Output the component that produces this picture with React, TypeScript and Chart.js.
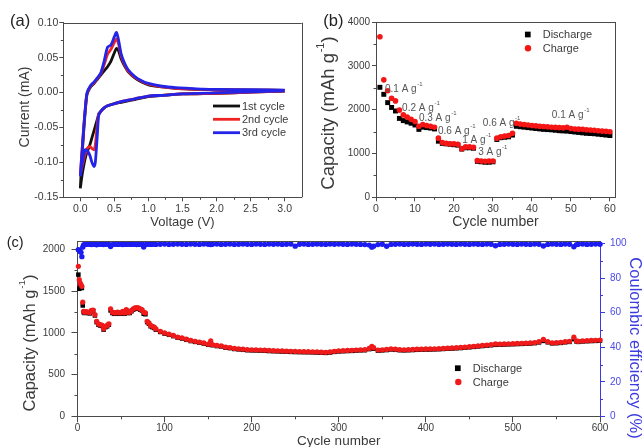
import React, { useEffect, useRef } from 'react';
import { Chart, registerables } from 'chart.js';

Chart.register(...registerables);

const FONT = "'Liberation Sans', Arial, Helvetica, sans-serif";
const TXT = '#3a3a3a';
const AX = '#4a4a4a';
const BLUE_AX = '#3a3ae6';

// ---------------- (a) cyclic voltammetry ----------------
const cvCathodicV = [3.0, 2.5, 2.0, 1.5, 1.2, 1.0, 0.8, 0.7, 0.6, 0.5, 0.4, 0.35, 0.3, 0.27, 0.25, 0.22, 0.2, 0.17, 0.14, 0.1, 0.07, 0.04, 0.02, 0.0];
const cvAnodicV = [0.0, 0.02, 0.05, 0.08, 0.1, 0.15, 0.2, 0.25, 0.3, 0.35, 0.4, 0.45, 0.5, 0.53, 0.56, 0.6, 0.65, 0.7, 0.8, 0.9, 1.0, 1.2, 1.4, 1.6, 1.8, 2.0, 2.5, 3.0];

const cv1Cathodic = [0.002, 0.0005, -0.001, -0.002, -0.004, -0.006, -0.01, -0.012, -0.014, -0.016, -0.019, -0.022, -0.027, -0.032, -0.038, -0.048, -0.055, -0.065, -0.075, -0.085, -0.095, -0.11, -0.122, -0.137];
const cv1Anodic = [-0.137, -0.1, -0.055, -0.018, -0.002, 0.008, 0.013, 0.019, 0.025, 0.031, 0.037, 0.045, 0.057, 0.063, 0.06, 0.048, 0.038, 0.03, 0.021, 0.015, 0.011, 0.008, 0.006, 0.005, 0.0045, 0.004, 0.0035, 0.003];
const cv2Cathodic = [0.002, 0.0005, -0.001, -0.002, -0.004, -0.005, -0.009, -0.011, -0.013, -0.016, -0.019, -0.022, -0.027, -0.03, -0.045, -0.075, -0.082, -0.08, -0.077, -0.08, -0.088, -0.1, -0.108, -0.117];
const cv2Anodic = [-0.117, -0.09, -0.05, -0.016, -0.001, 0.009, 0.014, 0.02, 0.027, 0.04, 0.055, 0.062, 0.072, 0.077, 0.07, 0.052, 0.04, 0.031, 0.022, 0.016, 0.012, 0.008, 0.006, 0.005, 0.0045, 0.004, 0.0035, 0.003];
const cv3Cathodic = [0.0025, 0.001, -0.0005, -0.002, -0.004, -0.005, -0.009, -0.011, -0.013, -0.016, -0.019, -0.022, -0.027, -0.032, -0.06, -0.1, -0.106, -0.1, -0.09, -0.083, -0.082, -0.095, -0.105, -0.12];
const cv3Anodic = [-0.12, -0.092, -0.05, -0.015, 0.0, 0.01, 0.015, 0.021, 0.028, 0.045, 0.065, 0.068, 0.08, 0.086, 0.076, 0.055, 0.042, 0.033, 0.023, 0.017, 0.013, 0.009, 0.007, 0.006, 0.005, 0.0045, 0.004, 0.0035];

const cvLabels = ['1st cycle', '2nd cycle', '3rd cycle'];
const aXTicks = [0, 0.5, 1, 1.5, 2, 2.5, 3];
const aYTicks = [-0.15, -0.1, -0.05, 0, 0.05, 0.1];

// ---------------- (b) rate capability ----------------
const rateCycles = [1, 2, 3, 4, 5, 6, 7, 8, 9, 10, 11, 12, 13, 14, 15, 16, 17, 18, 19, 20, 21, 22, 23, 24, 25, 26, 27, 28, 29, 30, 31, 32, 33, 34, 35, 36, 37, 38, 39, 40, 41, 42, 43, 44, 45, 46, 47, 48, 49, 50, 51, 52, 53, 54, 55, 56, 57, 58, 59, 60];
const rateDischarge = [2510, 2350, 2160, 2050, 1970, 1800, 1750, 1720, 1690, 1650, 1550, 1600, 1590, 1580, 1560, 1280, 1230, 1220, 1210, 1200, 1190, 1100, 1130, 1130, 1120, 820, 810, 800, 800, 810, 1320, 1360, 1370, 1380, 1420, 1620, 1610, 1600, 1590, 1580, 1570, 1560, 1550, 1545, 1540, 1530, 1520, 1515, 1510, 1500, 1490, 1480, 1470, 1460, 1455, 1450, 1440, 1430, 1420, 1410];
const rateCharge = [3665, 2680, 2430, 2260, 2200, 1990, 1880, 1830, 1780, 1730, 1620, 1660, 1640, 1620, 1600, 1350, 1250, 1230, 1220, 1220, 1210, 1110, 1150, 1150, 1140, 840, 830, 820, 830, 830, 1350, 1380, 1400, 1410, 1460, 1690, 1670, 1660, 1650, 1640, 1630, 1620, 1615, 1610, 1600, 1595, 1590, 1585, 1600, 1570, 1560, 1555, 1550, 1540, 1535, 1530, 1520, 1510, 1505, 1495];
const rateText = ['0.1', '0.2', '0.3', '0.6', '1', '3', '0.6', '0.1'];
const rateTextCycle = [2.3, 6.7, 11.0, 15.9, 22.1, 26.2, 27.4, 45.1];
const rateTextCap = [2471, 2037, 1809, 1512, 1307, 1033, 1689, 1872];
const bXTicks = [0, 10, 20, 30, 40, 50, 60];
const bYTicks = [0, 1000, 2000, 3000, 4000];

// ---------------- (c) long cycling ----------------
const capCycles = [
  1, 2, 3, 4, 5, 6, 7, 8,
  10, 12, 14, 16, 18, 20, 22, 24, 26, 28,
  30, 32, 34, 36, 38, 40, 42, 44, 46, 48,
  50, 52, 54, 56, 58, 60, 62, 64, 66, 68,
  70, 72, 74, 76, 78, 80, 82, 84, 86, 88,
  90,
  95, 100, 105, 110, 115, 120, 125, 130, 135, 140, 145, 150, 153, 155, 160, 165, 170, 175, 180, 185, 190, 195, 200,
  205, 210, 215, 220, 225, 230, 235, 240, 245, 250, 255, 260, 265, 270, 275, 280, 285, 290, 295, 300,
  305, 310, 315, 320, 325, 330, 335, 338, 340, 345, 350, 355, 360, 365, 370, 375, 380, 385, 390, 395, 400,
  405, 410, 415, 420, 425, 430, 435, 440, 445, 450, 455, 460, 465, 470, 475, 480, 485, 490, 495, 500,
  505, 510, 515, 520, 525, 530, 535, 540, 545, 550, 555, 560, 565, 570, 573, 575, 580, 585, 590, 595, 600,
];
const capCharge = [
  1800, 1640, 1600, 1580, 1560, 1370, 1260, 1250,
  1255, 1250, 1245, 1270, 1275, 1220, 1140, 1110, 1100, 1095,
  1050, 1080, 1090, 1110, 1290, 1250, 1240, 1245, 1250, 1240,
  1245, 1260, 1240, 1280, 1250, 1250, 1270, 1290, 1300, 1305,
  1300, 1290, 1280, 1250, 1240, 1140, 1120, 1090, 1080, 1070,
  1050,
  1020, 1000, 985, 970, 950, 940, 925, 910, 900, 890, 880, 865, 905, 860, 850, 845, 830, 825, 815, 810, 805, 800, 798,
  797, 795, 793, 790, 788, 786, 784, 782, 780, 778, 777, 776, 775, 774, 772, 770, 768, 772, 780, 785,
  788, 790, 792, 795, 798, 800, 815, 838, 825, 795, 798, 802, 810, 805, 800, 798, 800, 802, 805, 806, 808,
  808, 810, 812, 815, 818, 820, 823, 826, 830, 835, 840, 845, 850, 855, 860, 868, 866, 868, 870, 872,
  874, 876, 878, 880, 885, 895, 922, 895, 882, 884, 888, 895, 900, 950, 905, 900, 905, 908, 910, 912, 915,
];
const capDischarge = [
  1700, 1530, 1560, 1550, 1540, 1330, 1250, 1240,
  1245, 1240, 1235, 1260, 1265, 1210, 1130, 1100, 1090, 1085,
  1040, 1070, 1080, 1100, 1270, 1240, 1230, 1235, 1240, 1230,
  1235, 1250, 1230, 1270, 1240, 1240, 1260, 1280, 1290, 1295,
  1290, 1280, 1270, 1230, 1225, 1130, 1110, 1080, 1070, 1060,
  1040,
  1012, 992, 978, 962, 943, 933, 918, 903, 893, 883, 873, 858, 880, 853, 843, 838, 823, 818, 808, 803, 798, 793, 791,
  790, 788, 786, 783, 781, 779, 777, 775, 773, 771, 770, 769, 768, 767, 765, 763, 761, 765, 773, 778,
  781, 783, 785, 788, 791, 793, 806, 820, 812, 788, 791, 795, 802, 798, 793, 791, 793, 795, 798, 799, 801,
  801, 803, 805, 808, 811, 813, 816, 819, 823, 828, 833, 838, 843, 848, 853, 858, 859, 861, 863, 865,
  867, 869, 871, 873, 878, 887, 905, 888, 875, 877, 881, 888, 893, 925, 898, 893, 898, 901, 903, 905, 908,
];
const coulombicEff = [
  96.5, 96, 95.5, 95, 92.5, 98, 99.3, 99.5,
  99.6, 99.8, 99.7, 99.5, 99.8, 99.6, 99.4, 99.7, 99.8, 99.6,
  99.5, 99.7, 99.8, 99.6, 98.4, 99.5, 99.7, 99.8, 99.6, 99.7,
  99.8, 99.5, 99.7, 99.6, 99.8, 99.7, 99.6, 99.8, 99.7, 99.5,
  99.7, 99.6, 99.8, 98.1, 99.5, 99.7, 99.8, 99.6, 99.7, 99.8,
  99.6,
  99.7, 99.8, 99.6, 99.7, 99.8, 99.7, 99.6, 99.8, 99.7, 99.6, 99.8, 99.7, 99.5, 99.7, 99.8, 99.6, 99.7, 99.8, 99.6, 99.7, 99.8, 99.7, 99.6,
  99.8, 99.7, 99.6, 99.8, 99.7, 99.8, 99.6, 99.7, 99.8, 98.6, 99.7, 99.8, 99.6, 99.7, 99.8, 99.7, 99.6, 99.8, 99.7, 99.8,
  99.7, 99.6, 99.8, 99.7, 99.6, 99.5, 99.2, 98.0, 98.6, 99.5, 99.7, 98.5, 99.6, 99.7, 99.8, 99.6, 99.7, 99.8, 99.7, 99.6, 99.8,
  99.7, 99.8, 99.6, 99.7, 99.8, 99.7, 99.6, 99.8, 99.7, 99.6, 99.8, 99.7, 99.6, 99.8, 99.7, 98.8, 99.6, 99.7, 99.8, 99.7,
  99.6, 99.8, 99.7, 99.6, 99.8, 99.7, 98.7, 99.6, 99.8, 99.7, 99.6, 99.8, 99.7, 98.2, 99.5, 99.7, 99.8, 99.6, 99.7, 99.8, 99.7,
];
const cXTicks = [0, 100, 200, 300, 400, 500, 600];
const cYTicks = [0, 500, 1000, 1500, 2000];
const cY2Ticks = [0, 20, 40, 60, 80, 100];

// ---------------- plugins ----------------
const fixedTicks = (vals: number[]) => (s: any) => {
  s.ticks = vals.map((v) => ({ value: v }));
};

const minorTicksPlugin = {
  id: 'minorTicks',
  afterDraw(chart: any, _a: any, opts: any) {
    const ctx = chart.ctx;
    ctx.save();
    for (const it of opts.items || []) {
      const s = chart.scales[it.axis];
      if (!s) continue;
      const vals = s.ticks.map((t: any) => t.value);
      const mids: number[] = [];
      for (let i = 0; i < vals.length - 1; i++) mids.push((vals[i] + vals[i + 1]) / 2);
      ctx.strokeStyle = it.color;
      ctx.lineWidth = 1;
      ctx.beginPath();
      for (const m of mids) {
        const p = Math.round(s.getPixelForValue(m)) + 0.5;
        if (s.position === 'bottom') {
          ctx.moveTo(p, s.top);
          ctx.lineTo(p, s.top + it.len);
        } else if (s.position === 'left') {
          ctx.moveTo(s.right, p);
          ctx.lineTo(s.right - it.len, p);
        } else if (s.position === 'right') {
          ctx.moveTo(s.left, p);
          ctx.lineTo(s.left + it.len, p);
        }
      }
      ctx.stroke();
    }
    const a = chart.chartArea;
    if (opts.frame) {
      ctx.strokeStyle = opts.frame.color;
      ctx.lineWidth = 1;
      ctx.beginPath();
      if (opts.frame.top) {
        ctx.moveTo(a.left, Math.round(a.top) + 0.5);
        ctx.lineTo(a.right, Math.round(a.top) + 0.5);
      }
      if (opts.frame.right) {
        ctx.moveTo(Math.round(a.right) + 0.5, a.top);
        ctx.lineTo(Math.round(a.right) + 0.5, a.bottom);
      }
      ctx.stroke();
    }
    ctx.restore();
  },
};

const legendPlugin = {
  id: 'inLegend',
  afterDraw(chart: any, _a: any, opts: any) {
    if (!opts.items) return;
    const ctx = chart.ctx;
    ctx.save();
    ctx.font = opts.font;
    ctx.textBaseline = 'middle';
    ctx.textAlign = 'left';
    for (const it of opts.items) {
      const ds = chart.data.datasets[it.index];
      if (it.kind === 'line') {
        ctx.strokeStyle = ds.borderColor;
        ctx.lineWidth = ds.borderWidth;
        ctx.beginPath();
        ctx.moveTo(it.x1, it.y);
        ctx.lineTo(it.x2, it.y);
        ctx.stroke();
      } else if (it.kind === 'rect') {
        ctx.fillStyle = ds.backgroundColor;
        ctx.fillRect(it.cx - it.size / 2, it.y - it.size / 2, it.size, it.size);
      } else {
        ctx.fillStyle = ds.backgroundColor;
        ctx.beginPath();
        ctx.arc(it.cx, it.y, it.size / 2, 0, Math.PI * 2);
        ctx.fill();
      }
      ctx.fillStyle = opts.color;
      ctx.fillText(ds.label, it.tx, it.y + 0.5);
    }
    ctx.restore();
  },
};

// free texts: panel letters, rate labels (data coords) and rotated axis titles
const textsPlugin = {
  id: 'texts',
  afterDraw(chart: any, _a: any, opts: any) {
    const ctx = chart.ctx;
    for (const it of opts.items || []) {
      let x = it.x;
      let y = it.y;
      if (it.data) {
        x = chart.scales.x.getPixelForValue(it.x);
        y = chart.scales.y.getPixelForValue(it.y);
      }
      ctx.save();
      ctx.translate(x, y);
      if (it.rot) ctx.rotate(it.rot);
      ctx.textBaseline = 'middle';
      ctx.textAlign = 'left';
      ctx.fillStyle = it.color;
      const main = `${it.size}px ${FONT}`;
      const supF = `${it.size * 0.6}px ${FONT}`;
      ctx.font = main;
      const w1 = ctx.measureText(it.text).width;
      let w2 = 0;
      let w3 = 0;
      if (it.sup) {
        ctx.font = supF;
        w2 = ctx.measureText(it.sup).width + 0.6;
      }
      if (it.after) {
        ctx.font = main;
        w3 = ctx.measureText(it.after).width;
      }
      const x0 = it.center ? -(w1 + w2 + w3) / 2 : 0;
      ctx.font = main;
      ctx.fillText(it.text, x0, 0);
      if (it.sup) {
        ctx.font = supF;
        ctx.fillText(it.sup, x0 + w1 + 0.6, -it.size * 0.45);
      }
      if (it.after) {
        ctx.font = main;
        ctx.fillText(it.after, x0 + w1 + w2, 0);
      }
      ctx.restore();
    }
  },
};

const baseAxis = (color: string, tl: number) => ({
  grid: { display: true, drawOnChartArea: false, drawTicks: true, tickLength: tl, color, lineWidth: 1 },
  border: { display: true, color, width: 1 },
});

const UP = -Math.PI / 2;
const DOWN = Math.PI / 2;

// ---------------- chart configs ----------------
function configA(): any {
  const cvColors = ['#111111', '#f02222', '#2424e8'];
  const cath = [cv1Cathodic, cv2Cathodic, cv3Cathodic];
  const anod = [cv1Anodic, cv2Anodic, cv3Anodic];
  const volts = [...cvCathodicV, ...cvAnodicV];
  const datasets = cvLabels.map((label, k) => {
    const cur = [...cath[k], ...anod[k]];
    return {
      label,
      data: volts.map((v, i) => ({ x: v, y: cur[i] })),
      showLine: true,
      borderColor: cvColors[k],
      backgroundColor: cvColors[k],
      borderWidth: 2.8,
      pointRadius: 0,
      tension: 0.25,
      order: 2 - k,
    };
  });
  return {
    type: 'scatter',
    data: { datasets },
    plugins: [minorTicksPlugin, legendPlugin, textsPlugin],
    options: {
      responsive: false,
      animation: false,
      devicePixelRatio: 1,
      layout: { padding: { top: 22.7, right: 18.3, left: 0, bottom: 0 } },
      plugins: {
        legend: { display: false },
        tooltip: { enabled: false },
        minorTicks: {
          items: [
            { axis: 'x', len: 2.5, color: AX },
            { axis: 'y', len: 2.5, color: AX },
          ],
          frame: { color: AX, top: true, right: true },
        },
        inLegend: {
          font: `11px ${FONT}`,
          color: TXT,
          items: [
            { index: 0, kind: 'line', x1: 213, x2: 240, y: 106, tx: 242 },
            { index: 1, kind: 'line', x1: 213, x2: 240, y: 119.3, tx: 242 },
            { index: 2, kind: 'line', x1: 213, x2: 240, y: 132.7, tx: 242 },
          ],
        },
        texts: {
          items: [
            { text: '(a)', x: 10, y: 21.5, size: 16.5, color: '#222' },
            { text: 'Current (mA)', x: 25, y: 107, rot: UP, center: true, size: 14, color: TXT },
          ],
        },
      },
      scales: {
        x: {
          type: 'linear',
          position: 'bottom',
          min: -0.25,
          max: 3.25,
          afterBuildTicks: fixedTicks(aXTicks),
          afterFit: (s: any) => { s.height = 34.7; },
          ...baseAxis(AX, 4),
          ticks: { font: { family: FONT, size: 10.5 }, color: TXT, padding: 2, maxRotation: 0, autoSkip: false, callback: (v: number) => v.toFixed(1) },
          title: { display: true, text: 'Voltage (V)', color: TXT, font: { family: FONT, size: 13 }, padding: { top: 0, bottom: 1.7 } },
        },
        y: {
          type: 'linear',
          position: 'left',
          min: -0.15,
          max: 0.1,
          afterBuildTicks: fixedTicks(aYTicks),
          afterFit: (s: any) => { s.width = 63.3; },
          ...baseAxis(AX, 4),
          ticks: { font: { family: FONT, size: 10.5 }, color: TXT, padding: 1, autoSkip: false, callback: (v: number) => v.toFixed(2) },
          title: { display: false },
        },
      },
    },
  };
}

function configB(): any {
  const rateItems = rateText.map((t, i) => ({
    text: `${t} A g`,
    sup: '-1',
    x: rateTextCycle[i],
    y: rateTextCap[i],
    data: true,
    size: 10,
    color: '#555555',
  }));
  return {
    type: 'scatter',
    data: {
      datasets: [
        {
          label: 'Discharge',
          data: rateCycles.map((c, i) => ({ x: c, y: rateDischarge[i] })),
          pointStyle: 'rect',
          pointRadius: 3.5,
          pointBorderWidth: 0,
          backgroundColor: '#000000',
          borderColor: '#000000',
          order: 1,
          clip: false,
        },
        {
          label: 'Charge',
          data: rateCycles.map((c, i) => ({ x: c, y: rateCharge[i] })),
          pointStyle: 'circle',
          pointRadius: 2.8,
          pointBorderWidth: 0,
          backgroundColor: '#f51515',
          borderColor: '#f51515',
          order: 0,
          clip: false,
        },
      ],
    },
    plugins: [minorTicksPlugin, legendPlugin, textsPlugin],
    options: {
      responsive: false,
      animation: false,
      devicePixelRatio: 1,
      layout: { padding: { top: 22, right: 27, left: 0, bottom: 0 } },
      plugins: {
        legend: { display: false },
        tooltip: { enabled: false },
        minorTicks: {
          items: [
            { axis: 'x', len: 2.5, color: AX },
            { axis: 'y', len: 2.5, color: AX },
          ],
          frame: { color: AX, top: true, right: true },
        },
        inLegend: {
          font: `11px ${FONT}`,
          color: TXT,
          items: [
            { index: 0, kind: 'rect', cx: 215.8, size: 5.7, y: 34.5, tx: 230.7 },
            { index: 1, kind: 'circle', cx: 216, size: 6.4, y: 48.3, tx: 230.7 },
          ],
        },
        texts: {
          items: [
            { text: '(b)', x: 11.3, y: 21.5, size: 16.5, color: '#222' },
            { text: 'Capacity (mAh g', sup: '-1', after: ')', x: 17, y: 113, rot: UP, center: true, size: 18.5, color: TXT },
            ...rateItems,
          ],
        },
      },
      scales: {
        x: {
          type: 'linear',
          position: 'bottom',
          min: 0,
          max: 61.3,
          afterBuildTicks: fixedTicks(bXTicks),
          afterFit: (s: any) => { s.height = 34.7; },
          ...baseAxis(AX, 4),
          ticks: { font: { family: FONT, size: 10.5 }, color: TXT, padding: 2, maxRotation: 0, autoSkip: false },
          title: { display: true, text: 'Cycle number', color: TXT, font: { family: FONT, size: 14 }, padding: { top: 0, bottom: 1.9 } },
        },
        y: {
          type: 'linear',
          position: 'left',
          min: 0,
          max: 4000,
          afterBuildTicks: fixedTicks(bYTicks),
          afterFit: (s: any) => { s.width = 64; },
          ...baseAxis(AX, 4),
          ticks: { font: { family: FONT, size: 10 }, color: TXT, padding: 2, autoSkip: false, callback: (v: number) => String(v) },
          title: { display: false },
        },
      },
    },
  };
}

function configC(): any {
  return {
    type: 'scatter',
    data: {
      datasets: [
        {
          label: 'Discharge',
          data: capCycles.map((c, i) => ({ x: c, y: capDischarge[i] })),
          pointStyle: 'rect',
          pointRadius: 3.2,
          pointBorderWidth: 0,
          backgroundColor: '#000000',
          borderColor: '#000000',
          yAxisID: 'y',
          order: 2,
          clip: false,
        },
        {
          label: 'Charge',
          data: capCycles.map((c, i) => ({ x: c, y: capCharge[i] })),
          pointStyle: 'circle',
          pointRadius: 2.6,
          pointBorderWidth: 0,
          backgroundColor: '#f01a1a',
          borderColor: '#f01a1a',
          yAxisID: 'y',
          order: 1,
          clip: false,
        },
        {
          label: 'Coulombic efficiency',
          data: capCycles.map((c, i) => ({ x: c, y: coulombicEff[i] })),
          pointStyle: 'circle',
          pointRadius: 2.7,
          pointBorderWidth: 0,
          backgroundColor: '#1c1cf2',
          borderColor: '#1c1cf2',
          yAxisID: 'y2',
          order: 0,
          clip: false,
        },
      ],
    },
    plugins: [minorTicksPlugin, legendPlugin, textsPlugin],
    options: {
      responsive: false,
      animation: false,
      devicePixelRatio: 1,
      layout: { padding: { top: 15.3, right: 0, left: 0, bottom: 0 } },
      plugins: {
        legend: { display: false },
        tooltip: { enabled: false },
        minorTicks: {
          items: [
            { axis: 'x', len: 3, color: AX },
            { axis: 'y', len: 3, color: AX },
            { axis: 'y2', len: 3, color: BLUE_AX },
          ],
          frame: { color: AX, top: true, right: false },
        },
        inLegend: {
          font: `11px ${FONT}`,
          color: TXT,
          items: [
            { index: 0, kind: 'rect', cx: 457.8, size: 5.7, y: 142.2, tx: 472.7 },
            { index: 1, kind: 'circle', cx: 458.3, size: 6.4, y: 156, tx: 472.7 },
          ],
        },
        texts: {
          items: [
            { text: '(c)', x: 6.7, y: 17.3, size: 14.5, color: '#222' },
            { text: 'Capacity (mAh g', sup: '-1', after: ')', x: 30, y: 117, rot: UP, center: true, size: 16.5, color: TXT },
            { text: 'Coulombic efficiency (%)', x: 634.5, y: 122, rot: DOWN, center: true, size: 16.5, color: '#3c3ce0' },
          ],
        },
      },
      scales: {
        x: {
          type: 'linear',
          position: 'bottom',
          min: 0,
          max: 600,
          afterBuildTicks: fixedTicks(cXTicks),
          afterFit: (s: any) => { s.height = 34.7; },
          ...baseAxis(AX, 6),
          ticks: { font: { family: FONT, size: 10 }, color: TXT, padding: 0, maxRotation: 0, autoSkip: false },
          title: { display: true, text: 'Cycle number', color: TXT, font: { family: FONT, size: 13.5 }, padding: { top: 0, bottom: 1.9 } },
        },
        y: {
          type: 'linear',
          position: 'left',
          min: 0,
          max: 2100,
          afterBuildTicks: fixedTicks(cYTicks),
          afterFit: (s: any) => { s.width = 77.5; },
          ...baseAxis(AX, 6),
          ticks: { font: { family: FONT, size: 10 }, color: TXT, padding: 6.5, autoSkip: false, callback: (v: number) => String(v) },
          title: { display: false },
        },
        y2: {
          type: 'linear',
          position: 'right',
          min: 0,
          max: 101.4,
          afterBuildTicks: fixedTicks(cY2Ticks),
          afterFit: (s: any) => { s.width = 50; },
          ...baseAxis(BLUE_AX, 5),
          ticks: { font: { family: FONT, size: 10 }, color: '#4a4ae8', padding: 5, autoSkip: false, callback: (v: number) => String(v) },
          title: { display: false },
        },
      },
    },
  };
}

function ChartCanvas(props: { make: () => any; left: number; top: number; width: number; height: number }) {
  const ref = useRef<HTMLCanvasElement | null>(null);
  useEffect(() => {
    const chart = new Chart(ref.current as HTMLCanvasElement, props.make());
    return () => chart.destroy();
  }, []);
  return (
    <canvas
      ref={ref}
      width={props.width}
      height={props.height}
      style={{ position: 'absolute', left: props.left, top: props.top, width: props.width, height: props.height }}
    />
  );
}

export default function App() {
  Chart.defaults.font.family = FONT;
  return (
    <div style={{ position: 'absolute', left: 0, top: 0, width: 642, height: 447, overflow: 'hidden', background: '#ffffff' }}>
      <ChartCanvas make={configC} left={0} top={226} width={650} height={225} />
      <ChartCanvas make={configA} left={0} top={0} width={320} height={232} />
      <ChartCanvas make={configB} left={312} top={0} width={330} height={232} />
    </div>
  );
}
